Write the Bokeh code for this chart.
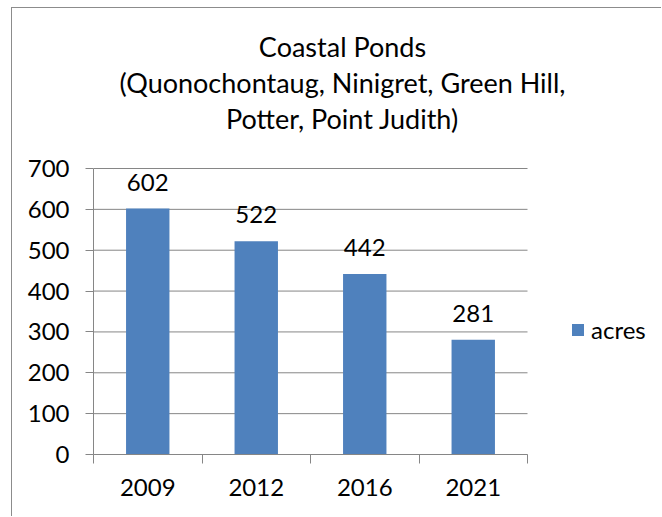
from bokeh.plotting import figure
from bokeh.models import (ColumnDataSource, FixedTicker, Range1d, Label, LabelSet,
                          Legend, LegendItem)
from bokeh.embed import file_html
from bokeh.resources import INLINE
from bokeh.core.properties import value
import numpy as np

# ---- data ----
years = ["2009", "2012", "2016", "2021"]
acres = [602, 522, 442, 281]
y_ticks = [0, 100, 200, 300, 400, 500, 600, 700]
title_lines = ["Coastal Ponds",
               "(Quonochontaug, Ninigret, Green Hill,",
               "Potter, Point Judith)"]
series_name = "acres"

FONT = "Lato"
GRAY = "#868686"
BAR = "#4F81BD"

# ---- layout (pixels) ----
W, H = 650, 509
LEFT, BOTTOM = 81, 63
PLOT_W, PLOT_H = 434, 286          # width / height of the bar area itself
FRAME_W, FRAME_H = W - LEFT, H - BOTTOM
y_max = y_ticks[-1]
n = len(years)

xpos = np.arange(n) + 0.5
src = ColumnDataSource(dict(x=xpos, acres=acres, lab=[str(v) for v in acres]))

p = figure(width=W, height=H, output_backend="svg", toolbar_location=None,
           x_range=Range1d(0, n * FRAME_W / PLOT_W),
           y_range=Range1d(0, y_max * FRAME_H / PLOT_H),
           min_border_left=LEFT, min_border_right=0, min_border_top=0,
           min_border_bottom=BOTTOM)
p.styles = {"border-left": "1px solid #8c8c8c", "border-top": "1px solid #8c8c8c",
            "margin-left": "11px", "margin-top": "7px"}
p.outline_line_color = None
p.background_fill_color = "white"
p.border_fill_color = "white"
p.xgrid.visible = False
p.ygrid.visible = False

# horizontal gridlines limited to the category area
p.segment(x0=[0] * len(y_ticks), x1=[n] * len(y_ticks), y0=y_ticks, y1=y_ticks,
          line_color=GRAY, line_width=1)

r = p.vbar(x="x", top="acres", width=0.4, source=src, fill_color=BAR, line_color=None)

# axes
xa = p.xaxis[0]
xa.bounds = (0, n)
xa.ticker = FixedTicker(ticks=list(xpos), minor_ticks=list(range(n + 1)))
xa.major_label_overrides = {float(x): y for x, y in zip(xpos, years)}
xa.major_tick_line_color = None
xa.minor_tick_out = 9
xa.minor_tick_in = 0
xa.minor_tick_line_color = GRAY
xa.axis_line_color = GRAY
xa.major_label_text_font = FONT
xa.major_label_text_font_size = "24px"
xa.major_label_text_color = "black"
xa.major_label_standoff = 15

ya = p.yaxis[0]
ya.bounds = (0, y_max)
ya.ticker = FixedTicker(ticks=y_ticks, minor_ticks=[])
ya.major_tick_out = 8
ya.major_tick_in = 0
ya.major_tick_line_color = GRAY
ya.axis_line_color = GRAY
ya.major_label_text_font = FONT
ya.major_label_text_font_size = "24px"
ya.major_label_text_color = "black"
ya.major_label_standoff = 16

# data labels
p.add_layout(LabelSet(x="x", y="acres", text="lab", source=src, y_offset=18,
                      text_align="center", text_baseline="alphabetic",
                      text_font=value(FONT), text_font_size="24px", text_color="black"))

# title lines (screen units, measured from the frame's bottom-left)
for line, yy in zip(title_lines, [408, 372, 336]):
    p.add_layout(Label(x=249, y=yy, x_units="screen", y_units="screen", text=line,
                       text_align="center", text_baseline="alphabetic",
                       text_font=FONT, text_font_size="27px", text_color="black"))

legend = Legend(items=[LegendItem(label=series_name, renderers=[r])],
                location=(477, 110), orientation="vertical",
                glyph_width=15, glyph_height=15, label_standoff=6,
                padding=0, margin=0, border_line_color=None,
                background_fill_alpha=0,
                label_text_font=FONT, label_text_font_size="24px",
                label_text_color="black")
p.add_layout(legend)

open("out.html", "w").write(file_html(p, INLINE))
